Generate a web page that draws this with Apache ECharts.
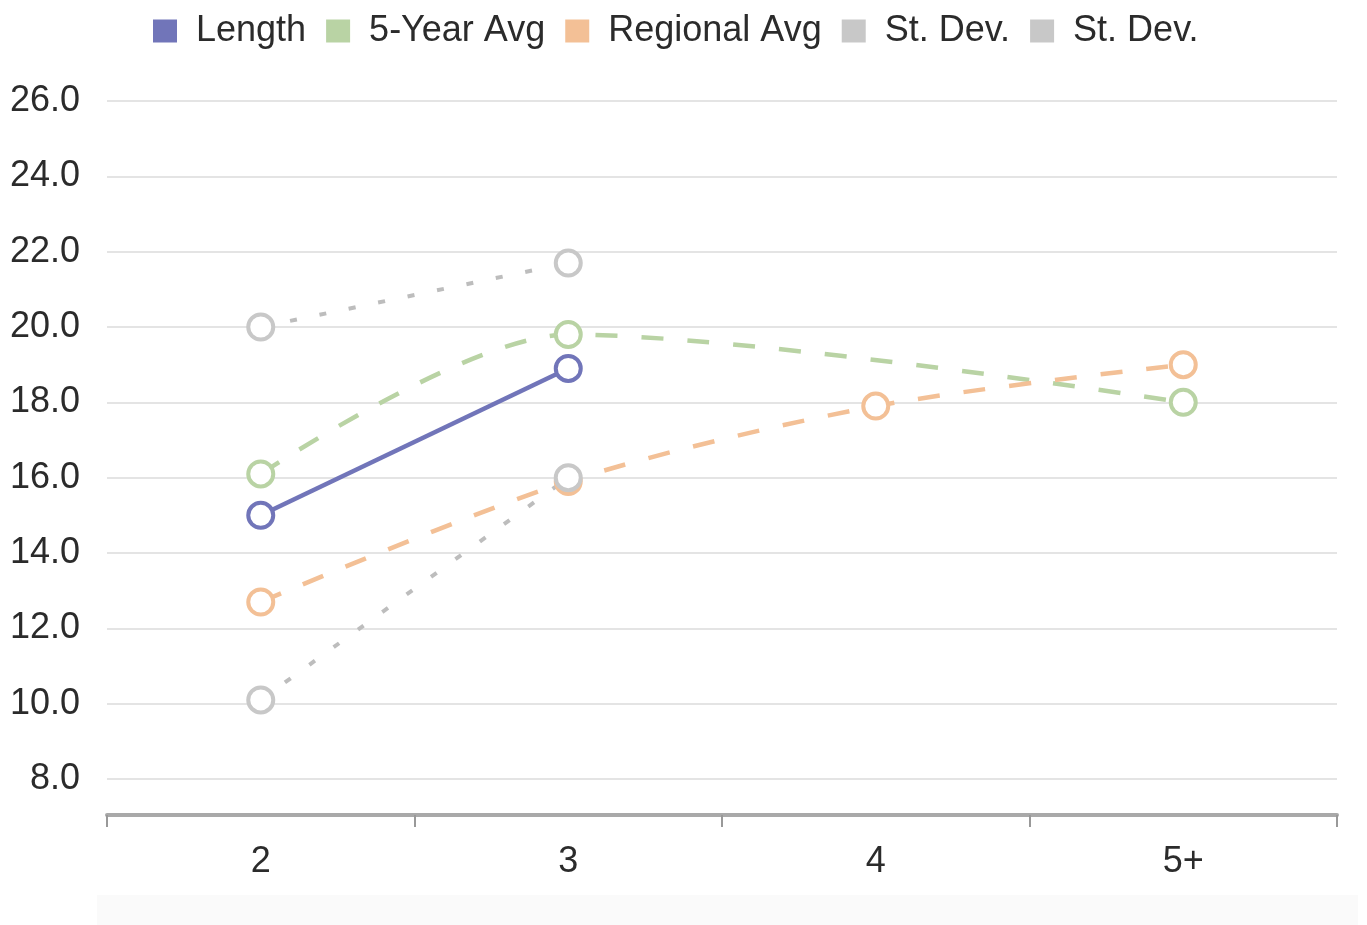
<!DOCTYPE html>
<html>
<head>
<meta charset="utf-8">
<script src="https://cdn.jsdelivr.net/npm/echarts@6/dist/echarts.min.js"></script>
<style>
html,body{margin:0;padding:0;background:#fff;}
#chart{width:1367px;height:925px;}
</style>
</head>
<body>
<div id="chart"></div>
<script>
const categories = ['2', '3', '4', '5+'];
const yTicks = [8, 26, 2]; // min, max, interval
const lengthValues = [15.0, 18.9, null, null];
const fiveYearAvg = [16.1, 19.8, null, 18.0];
const regionalAvg = [12.7, 15.9, 17.9, 19.0];
const stDevUpper = [20.0, 21.7, null, null];
const stDevLower = [10.1, 16.0, null, null];
const seriesNames = ['Length', '5-Year Avg', 'Regional Avg', 'St. Dev.', 'St. Dev.'];

const colors = ['#7175b9', '#b9d3a4', '#f3c096', '#c8c8c8', '#c8c8c8'];
const FONT = '"Liberation Sans", Arial, sans-serif';

function lineSeries(id, idx, data, opts) {
  return Object.assign({
    id: id,
    name: id,
    type: 'line',
    data: data,
    symbol: 'circle',
    symbolSize: 25,
    connectNulls: true,
    smooth: 0.3,
    itemStyle: { color: '#ffffff', borderColor: colors[idx], borderWidth: 4 },
    lineStyle: { color: colors[idx], width: 4 },
    emphasis: { disabled: true }
  }, opts);
}

const ids = ['s0', 's1', 's2', 's3', 's4'];
const chart = echarts.init(document.getElementById('chart'), null, { renderer: 'canvas' });
chart.setOption({
  animation: false,
  backgroundColor: '#fff',
  color: colors,
  graphic: [{
    type: 'rect', z: -10, silent: true,
    shape: { x: 97, y: 895, width: 1261, height: 30 },
    style: { fill: '#fafafa' }
  }],
  legend: {
    top: 8,
    left: 148,
    icon: 'rect',
    itemWidth: 24,
    itemHeight: 23,
    itemGap: 20,
    data: ids.map(function (id, i) { return { name: id, itemStyle: { color: colors[i], borderWidth: 0 } }; }),
    formatter: function (n) { return seriesNames[ids.indexOf(n)]; },
    textStyle: { fontFamily: FONT, fontSize: 36, color: '#2b2b2b', padding: [0, 0, 0, 14] }
  },
  grid: { left: 107, right: 30, top: 101, bottom: 146 },
  xAxis: {
    type: 'category',
    data: categories,
    boundaryGap: true,
    offset: 36,
    axisLine: { show: true, lineStyle: { color: '#a9a9a9', width: 4 } },
    axisTick: { show: true, length: 12, lineStyle: { color: '#999', width: 2 } },
    axisLabel: { fontFamily: FONT, fontSize: 36, color: '#2b2b2b', margin: 29 },
    splitLine: { show: false }
  },
  yAxis: {
    type: 'value',
    min: yTicks[0],
    max: yTicks[1],
    interval: yTicks[2],
    axisLine: { show: false },
    axisTick: { show: false },
    axisLabel: {
      fontFamily: FONT, fontSize: 36, color: '#2b2b2b', margin: 27,
      formatter: function (v) { return v.toFixed(1); }
    },
    splitLine: { lineStyle: { color: '#e4e4e4', width: 2 } }
  },
  series: [
    lineSeries('s0', 0, lengthValues, { smooth: false, lineStyle: { color: colors[0], width: 4.5 } }),
    lineSeries('s1', 1, fiveYearAvg, { lineStyle: { color: colors[1], width: 4.5, type: [22, 24] } }),
    lineSeries('s2', 2, regionalAvg, { lineStyle: { color: colors[2], width: 4.5, type: [22, 24] } }),
    lineSeries('s3', 3, stDevUpper, { lineStyle: { color: '#bdbdbd', width: 4, type: [7, 23] } }),
    lineSeries('s4', 4, stDevLower, { lineStyle: { color: '#bdbdbd', width: 4, type: [7, 23] } })
  ]
});
</script>
</body>
</html>
